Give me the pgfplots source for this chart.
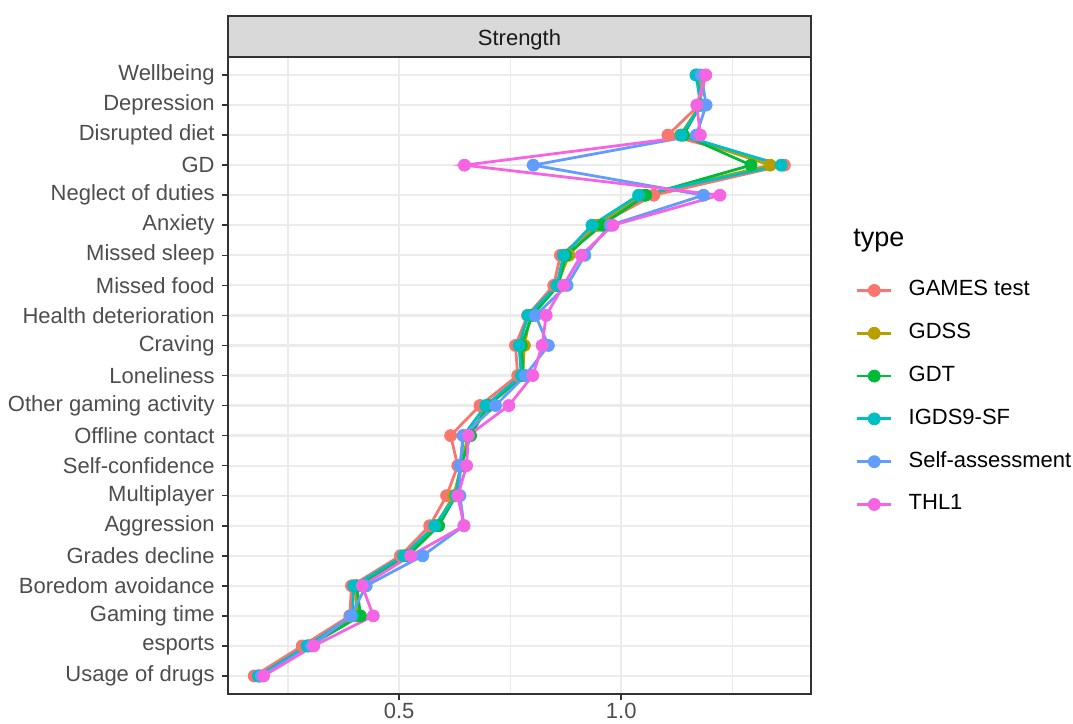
\documentclass[border=0pt]{standalone}
\usepackage{fontspec}
\setmainfont{Liberation Sans}
\usepackage{pgfplots}
\usepackage{pgfplotstable}
\pgfplotsset{compat=1.18}

\definecolor{cGames}{HTML}{F8766D}
\definecolor{cGdss}{HTML}{B79F00}
\definecolor{cGdt}{HTML}{00BA38}
\definecolor{cIgds}{HTML}{00BFC4}
\definecolor{cSelf}{HTML}{619CFF}
\definecolor{cThl}{HTML}{F564E3}
\definecolor{gridgray}{HTML}{EBEBEB}
\definecolor{framegray}{HTML}{333333}
\definecolor{labelgray}{HTML}{4D4D4D}
\definecolor{stripgray}{HTML}{D9D9D9}

% y: 1 = Usage of drugs ... 21 = Wellbeing
\pgfplotstableread{
y  games gdss  gdt   igds  self  thl
21 1.190 1.175 1.170 1.168 1.180 1.190
20 1.175 1.178 1.178 1.180 1.191 1.170
19 1.105 1.133 1.140 1.135 1.169 1.178
18 1.367 1.335 1.292 1.360 0.802 0.647
17 1.073 1.050 1.055 1.039 1.185 1.222
16 0.947 0.945 0.956 0.934 0.975 0.981
15 0.863 0.882 0.875 0.870 0.918 0.910
14 0.848 0.855 0.858 0.855 0.878 0.870
13 0.789 0.795 0.800 0.790 0.807 0.831
12 0.762 0.782 0.775 0.770 0.836 0.822
11 0.767 0.778 0.780 0.775 0.784 0.801
10 0.682 0.702 0.700 0.695 0.717 0.747
9  0.616 0.655 0.661 0.645 0.644 0.656
8  0.632 0.640 0.640 0.638 0.637 0.652
7  0.607 0.623 0.628 0.628 0.637 0.632
6  0.569 0.582 0.589 0.580 0.646 0.646
5  0.503 0.515 0.520 0.510 0.553 0.526
4  0.393 0.402 0.405 0.398 0.426 0.417
3  0.389 0.406 0.413 0.395 0.391 0.442
2  0.282 0.295 0.297 0.293 0.303 0.308
1  0.174 0.184 0.186 0.183 0.190 0.195
}\strength

\pgfplotsset{
  ln/.style={line width=1.4pt, forget plot},
  dots/.style={only marks, mark=*, mark size=3pt,
    mark options={draw=none, fill=#1}, #1,
    legend image code/.code={
      \draw[line width=1.4pt] (0pt,0pt) -- (17pt,0pt);
      \fill (8.5pt,0pt) circle (3pt);
    }},
}

\begin{document}
\begin{tikzpicture}
\path[use as bounding box] (0,0) rectangle (536.5pt,362pt);
\begin{axis}[
    name=ax,
    at={(114pt,15pt)}, anchor=south west,
    scale only axis,
    width=291.5pt, height=318.5pt,
    xmin=0.115, xmax=1.427,
    ymin=0.4, ymax=21.6,
    xtick={0.5,1.0}, xticklabels={0.5,1.0},
    minor xtick={0.25,0.75,1.25},
    ytick={1,...,21},
    yticklabels={Usage of drugs, esports, Gaming time, Boredom avoidance,
      Grades decline, Aggression, Multiplayer, Self-confidence,
      Offline contact, Other gaming activity, Loneliness, Craving,
      Health deterioration, Missed food, Missed sleep, Anxiety,
      Neglect of duties, GD, Disrupted diet, Depression, Wellbeing},
    tick pos=left,
    tick align=outside,
    major tick length=3pt,
    minor tick length=0pt,
    tick style={color=framegray, line width=0.8pt},
    xmajorgrids, ymajorgrids, xminorgrids,
    major grid style={color=gridgray, line width=1.1pt},
    minor grid style={color=gridgray, line width=0.55pt},
    axis line style={color=framegray, line width=0.8pt},
    ticklabel style={font=\fontsize{11}{13}\selectfont, text=labelgray},
    yticklabel style={inner sep=0pt, xshift=-3.5pt},
    xticklabel style={inner sep=0pt, yshift=-1.5pt},
    legend style={draw=none, fill=none, inner sep=0pt, outer sep=0pt,
      at={(axis description cs:1.0770,0.4655)}, anchor=west,
      font=\fontsize{11}{13}\selectfont,
      row sep=10.8pt, column sep=8pt,
      nodes={inner sep=0pt, text height=8pt, text depth=2.6pt}},
    legend cell align=left,
]
\addplot[cGames, ln] table[x=games, y=y] {\strength};
\addplot[cGdss,  ln] table[x=gdss,  y=y] {\strength};
\addplot[cGdt,   ln] table[x=gdt,   y=y] {\strength};
\addplot[cIgds,  ln] table[x=igds,  y=y] {\strength};
\addplot[cSelf,  ln] table[x=self,  y=y] {\strength};
\addplot[cThl,   ln] table[x=thl,   y=y] {\strength};

\addplot[dots=cGames] table[x=games, y=y] {\strength};
\addlegendentry{GAMES test}
\addplot[dots=cGdss] table[x=gdss, y=y] {\strength};
\addlegendentry{GDSS}
\addplot[dots=cGdt] table[x=gdt, y=y] {\strength};
\addlegendentry{GDT}
\addplot[dots=cIgds] table[x=igds, y=y] {\strength};
\addlegendentry{IGDS9-SF}
\addplot[dots=cSelf] table[x=self, y=y] {\strength};
\addlegendentry{Self-assessment}
\addplot[dots=cThl] table[x=thl, y=y] {\strength};
\addlegendentry{THL1}
\end{axis}
% facet strip
\draw[fill=stripgray, draw=framegray, line width=0.8pt]
  (ax.north west) rectangle ([yshift=20.5pt]ax.north east);
\node[font=\fontsize{11}{13}\selectfont, text=black!90, anchor=base]
  at ([yshift=5.6pt]ax.north) {Strength};
% legend title
\node[font=\fontsize{13.5}{16}\selectfont, anchor=base west, inner sep=0pt]
  at (426.5pt,238.6pt) {type};
\end{tikzpicture}
\end{document}
